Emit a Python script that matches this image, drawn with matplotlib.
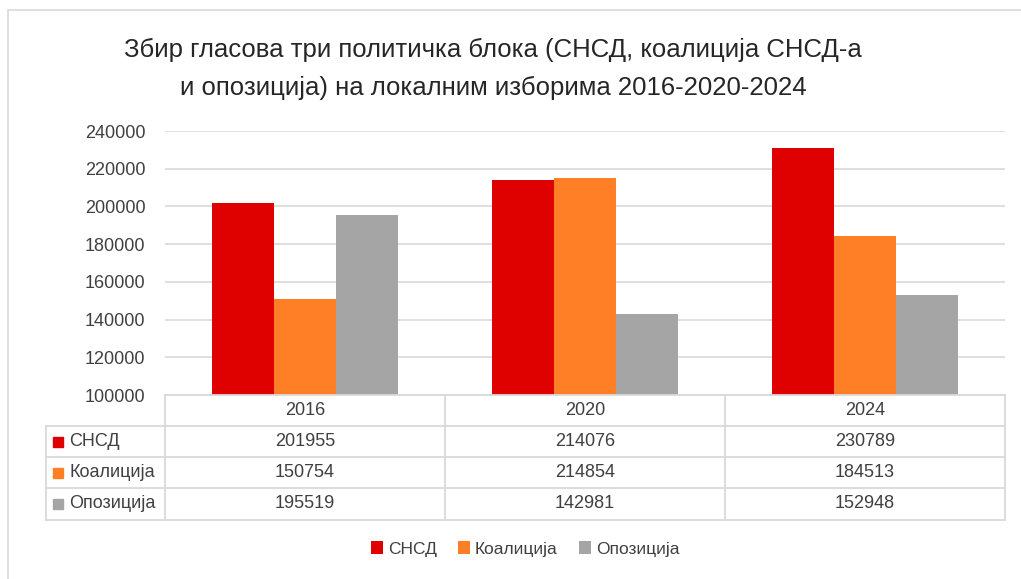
import numpy as np
import matplotlib.pyplot as plt
from matplotlib.patches import Rectangle, Patch
from matplotlib.lines import Line2D

plt.rcParams['font.family'] = ['Liberation Sans', 'DejaVu Sans']

godine = ['2016', '2020', '2024']
serije = ['СНСД', 'Коалиција', 'Опозиција']
snsd = [201955, 214076, 230789]
koalicija = [150754, 214854, 184513]
opozicija = [195519, 142981, 152948]
vrijednosti = [snsd, koalicija, opozicija]
boje = ['#DF0000', '#FF7F27', '#A5A5A5']

W, H = 1021, 579
def fx(px):
    return px / W
def fy(py):
    return 1 - py / H

fig = plt.figure(figsize=(W / 100, H / 100), dpi=100)
fig.patches.append(Rectangle((fx(8), -0.1), 1.2, fy(10) + 0.1, transform=fig.transFigure,
                             fill=False, edgecolor='#D9D9D9', lw=1.2))

ax = fig.add_axes([fx(165), fy(395), fx(1005) - fx(165), fy(131) - fy(395)])
x = np.arange(len(godine))
sirina = 0.222
for i, (ime, vals) in enumerate(zip(serije, vrijednosti)):
    ax.bar(x + (i - 1) * sirina, vals, sirina, color=boje[i], label=ime, zorder=3)

ax.set_xlim(-0.5, 2.5)
ax.set_ylim(100000, 240000)
ax.set_yticks(np.arange(100000, 240001, 20000))
ax.tick_params(axis='y', length=0, pad=14, labelsize=13, labelcolor='#404040')
ax.set_xticks([])
for s in ax.spines.values():
    s.set_visible(False)
ax.yaxis.grid(True, color='#D9D9D9', lw=1.2, zorder=0)

# tabela ispod grafika
lc = '#D9D9D9'
redovi = [395, 426, 457, 488, 520]
for py in redovi:
    x0 = 165 if py == 395 else 46
    fig.add_artist(Line2D([fx(x0), fx(1005)], [fy(py), fy(py)], color=lc, lw=1.3))
for px in [165, 445, 725, 1005]:
    fig.add_artist(Line2D([fx(px), fx(px)], [fy(395), fy(520)], color=lc, lw=1.3))
fig.add_artist(Line2D([fx(46), fx(46)], [fy(426), fy(520)], color=lc, lw=1.3))

centri = [305, 585, 865]
for c, g in zip(centri, godine):
    fig.text(fx(c), fy(410.5), g, ha='center', va='center', fontsize=13, color='#404040')
for r, (ime, vals) in enumerate(zip(serije, vrijednosti)):
    yc = (redovi[r + 1] + redovi[r + 2]) / 2
    fig.patches.append(Rectangle((fx(53), fy(yc + 5)), fx(10), (10 / H), transform=fig.transFigure,
                                 color=boje[r]))
    fig.text(fx(69), fy(yc), ime, ha='left', va='center', fontsize=13, color='#404040')
    for c, v in zip(centri, vals):
        fig.text(fx(c), fy(yc), str(v), ha='center', va='center', fontsize=13, color='#404040')

fig.text(fx(493), fy(50), 'Збир гласова три политичка блока (СНСД, коалиција СНСД-а',
         ha='center', va='center', fontsize=18.5, color='#262626')
fig.text(fx(493), fy(88), 'и опозиција) на локалним изборима 2016-2020-2024',
         ha='center', va='center', fontsize=18.5, color='#262626')

rucke = [Patch(facecolor=b, edgecolor='none') for b in boje]
fig.legend(rucke, serije, loc='center', bbox_to_anchor=(fx(525), fy(549)), ncol=3,
           frameon=False, fontsize=12.5, handlelength=0.7, handleheight=0.7,
           handletextpad=0.3, columnspacing=1.2, labelcolor='#404040')

fig.savefig('out.png', dpi=100)
